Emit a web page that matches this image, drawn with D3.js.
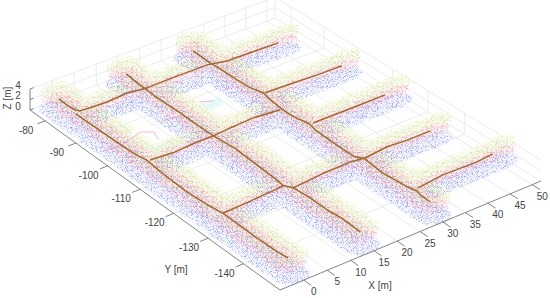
<!DOCTYPE html><html><head><meta charset="utf-8"><script src="https://cdnjs.cloudflare.com/ajax/libs/d3/7.8.5/d3.min.js"></script>
<style>html,body{margin:0;background:#fff}text{font-family:"Liberation Sans",Arial,sans-serif;font-size:10px;fill:#444}</style></head><body>
<svg id="chart" width="550" height="298"></svg>
<script>
// Axis ticks
const xTicks=[0,5,10,15,20,25,30,35,40,45,50];
const yTicks=[-80,-90,-100,-110,-120,-130,-140];
const zTicks=[0,2,4];
// Trajectory runs, [X m, Y m], drawn at sensor height
const trajectoryZ=2;
const run1=[[-0.6,-78.1],[-0.7,-80.8],[-0.5,-83.2],[0,-84.1],[2.1,-84.3],[5.8,-84.5],[10.6,-84.1],[13.8,-84.7],[14.6,-84.8],[21.1,-84.7],[28.5,-84.8],[32.3,-85.9],[38.2,-86.1],[44,-86.3]];
const run2=[[-1.2,-84.4],[-1.2,-89.3],[-1,-97.5],[-0.9,-102.3],[-0.4,-105.7],[-0.6,-108.3],[-0.9,-113.5],[-1,-118.8],[-0.7,-124],[-0.2,-127.8],[-0.3,-136.4],[-0.2,-143.1],[0.1,-145.6]];
const run3=[[14.6,-78.2],[14.2,-83.1],[14.2,-85.4],[14,-88],[14.1,-95.9],[14,-99.9],[14,-106.1],[14.5,-112],[14.2,-117.2],[13.9,-123.6],[13.6,-127],[14.5,-128.6],[14.8,-132.9],[14.7,-137.7],[15,-141.4],[14.8,-146.6]];
const run4=[[29.6,-78.9],[29.4,-84.5],[29.5,-86.5],[29.5,-92.7],[29.6,-96],[30.4,-99.6],[30,-101.4],[29.5,-106.1],[29.5,-109.5],[30.2,-113],[29.7,-115.5],[29.5,-121],[29.4,-126.8],[30.4,-128.4],[29.9,-134.2],[30.4,-140.8],[30.8,-142.3],[30.4,-143.6],[30.3,-146.3]];
const run5=[[0.1,-105.9],[4.8,-106.4],[10.4,-106],[14,-106.1],[18.1,-105.7],[23.5,-105.4],[29.1,-106.1]];
const run6=[[30.7,-99.6],[36.9,-99.9],[42.9,-100.3],[47.9,-100.4]];
const run7=[[-0.1,-127.8],[5.3,-127.6],[11.7,-127.2],[13.5,-127]];
const run8=[[14.5,-128.6],[21.5,-128],[27.7,-127.9],[30.6,-128.4],[36.1,-127.8],[40.5,-128.2],[45.6,-128.2]];
const run9=[[31.6,-141.6],[37.7,-140.9],[45.2,-141.2],[49.1,-140.8]];
const run10=[[30.9,-113.4],[41.6,-113.5],[47.4,-113.5]];
const runs=[run1,run2,run3,run4,run5,run6,run7,run8,run9,run10];
// Tunnel centre lines: the extent of the scanned swaths
const tunnels=[
 [[-0.8,-77],[-0.8,-148]],[[14.3,-77],[14.3,-148]],[[30,-77],[30,-148]],
 [[-0.8,-84.5],[46,-86]],[[0,-106],[30,-106]],[[30,-100],[49,-100.4]],
 [[-0.8,-127.5],[14,-127]],[[14,-128],[47,-128.2]],[[30,-113.5],[50,-113.5]],[[30,-141],[51,-141]]];
// Faint floor returns seen in the openings
const floorPink=[[[-2.8,-95.3],[0.8,-95.9],[6.6,-94],[8.5,-95.4],[7.6,-98.1]],[[12.1,-93.1],[16,-93.9]],[[21.5,-91.8],[23.9,-93.2]],[[27,-91.3],[29.4,-91.1]]];
const floorCyan=[[[3.5,-90],[3.5,-101]],[[3,-101],[11,-101]],[[17.5,-94],[25,-94]]];

const Xmin=-5,Xmax=52,Ymin=-150,Ymax=-75;
// The picture's perspective: unit square (u along X, v towards Ymin) onto the floor corners
const uScale=d3.scaleLinear().domain([Xmin,Xmax]).range([0,1]);
const vScale=d3.scaleLinear().domain([Ymax,Ymin]).range([0,1]);
const zScale=d3.scaleLinear().domain([0,4]).range([0,-21]);
const P00=[30,110],P10=[275,18],P11=[541,181],P01=[280,290];
const sx=P00[0]-P10[0]+P11[0]-P01[0],sy=P00[1]-P10[1]+P11[1]-P01[1];
const d1=[P10[0]-P11[0],P10[1]-P11[1]],d2=[P01[0]-P11[0],P01[1]-P11[1]];
const det=d1[0]*d2[1]-d2[0]*d1[1];
const hg=(sx*d2[1]-d2[0]*sy)/det,hh=(d1[0]*sy-sx*d1[1])/det;
const ha=P10[0]-P00[0]+hg*P10[0],hb=P01[0]-P00[0]+hh*P01[0];
const hd=P10[1]-P00[1]+hg*P10[1],he=P01[1]-P00[1]+hh*P01[1];
function project(X,Y,Z=0){const u=uScale(X),v=vScale(Y),w=hg*u+hh*v+1;
 return [(ha*u+hb*v+P00[0])/w,(hd*u+he*v+P00[1])/w+zScale(Z)];}

const svg=d3.select("#chart");
const defs=svg.append("defs");
// Speckle texture: the tens of thousands of single scan points cannot be read from the picture,
// so the swaths are shaded with a noise texture rather than with invented point values.
function speckle(id,seed,freq,cut){
 const f=defs.append("filter").attr("id",id).attr("filterUnits","userSpaceOnUse").attr("x",0).attr("y",0).attr("width",550).attr("height",298).attr("color-interpolation-filters","sRGB");
 f.append("feTurbulence").attr("type","fractalNoise").attr("baseFrequency",freq).attr("numOctaves",1).attr("seed",seed).attr("result","n");
 f.append("feColorMatrix").attr("in","n").attr("type","matrix").attr("values",`0 0 0 0 0 0 0 0 0 0 0 0 0 0 0 7 0 0 0 ${-7*cut}`).attr("result","m");
 f.append("feComposite").attr("in","SourceGraphic").attr("in2","m").attr("operator","in").attr("result","c");
 f.append("feGaussianBlur").attr("in","c").attr("stdDeviation",0.3);
}
const layers=[
 {z:0,  rx:3.2,ry:2.3,color:"#5a6fe0",seed:3, cut:.53,op:.5,wash:"#e8ebfb"},
 {z:0.9,rx:2.9,ry:2.0,color:"#8a98d4",seed:8, cut:.57,op:.38},
 {z:3.0,rx:3.1,ry:1.9,color:"#a4c286",seed:11,cut:.56,op:.42,wash:"#f2f7ea"},
 {z:3.8,rx:3.1,ry:1.7,color:"#dcdf82",seed:17,cut:.54,op:.5,wash:"#fafbe8"},
 {z:1.9,rx:2.7,ry:1.5,color:"#f47fa8",seed:23,cut:.55,op:.6,wash:"#fde4ec"}];
layers.forEach((l,i)=>speckle("sp"+i,l.seed,1.2,l.cut));
defs.append("filter").attr("id","soft").append("feGaussianBlur").attr("stdDeviation",1.6);

const ln=d3.line();
const grid=svg.append("g").attr("fill","none").attr("stroke","#e4e4e4").attr("stroke-width",0.7);
const seg=(g,a,b)=>g.append("path").attr("d",ln([a,b]));
xTicks.forEach(x=>{seg(grid,project(x,Ymin),project(x,Ymax));seg(grid,project(x,Ymax),project(x,Ymax,4));});
yTicks.forEach(y=>{seg(grid,project(Xmin,y),project(Xmax,y));seg(grid,project(Xmax,y),project(Xmax,y,4));});
zTicks.forEach(z=>{seg(grid,project(Xmin,Ymax,z),project(Xmax,Ymax,z));seg(grid,project(Xmax,Ymax,z),project(Xmax,Ymin,z));});
seg(grid,project(Xmax,Ymax),project(Xmax,Ymax,4));

svg.append("g").attr("fill","none").attr("stroke","#c9f3f3").attr("stroke-width",9).attr("opacity",.45).attr("filter","url(#soft)")
 .selectAll("path").data(floorCyan).join("path").attr("d",d=>ln(d.map(p=>project(p[0],p[1]))));

// Swaths: each tunnel is the hull of an ellipse at both ends, taken in metres and then projected
const angles=d3.range(0,360,15).map(a=>a*Math.PI/180);
function swath(l){
 return tunnels.map(t=>{
  const pts=[];t.forEach(c=>angles.forEach(a=>pts.push([c[0]+l.rx*Math.cos(a),c[1]+l.ry*Math.sin(a)])));
  return ln(d3.polygonHull(pts).map(p=>project(p[0],p[1],l.z)))+"Z";
 }).join("");
}
layers.filter(l=>l.wash).forEach(l=>svg.append("path").attr("d",swath(l)).attr("fill",l.wash).attr("opacity",.5).attr("filter","url(#soft)"));
layers.forEach((l,i)=>svg.append("path").attr("d",swath(l)).attr("fill",l.color).attr("fill-rule","nonzero").attr("opacity",l.op).attr("filter",`url(#sp${i})`));

svg.append("g").attr("fill","none").attr("stroke","#f06fb4").attr("stroke-width",.9).attr("opacity",.55)
 .selectAll("path").data(floorPink).join("path").attr("d",d=>ln(d.map(p=>project(p[0],p[1]))));

svg.append("g").attr("fill","none").attr("stroke","#a5672c").attr("stroke-width",1.5).attr("stroke-linejoin","round")
 .selectAll("path").data(runs).join("path").attr("d",d=>ln(d.map(p=>project(p[0],p[1],trajectoryZ))));

const axis=svg.append("g").attr("fill","none").attr("stroke","#666").attr("stroke-width",0.8);
seg(axis,project(Xmin,Ymin),project(Xmax,Ymin));
seg(axis,project(Xmin,Ymax),project(Xmin,Ymin));
seg(axis,project(Xmin,Ymax),project(Xmin,Ymax,4));
xTicks.forEach(x=>seg(axis,project(x,Ymin),project(x,Ymin-2)));
yTicks.forEach(y=>seg(axis,project(Xmin,y),project(Xmin-1.7,y)));
zTicks.forEach(z=>seg(axis,project(Xmin,Ymax,z),project(Xmin+0.8,Ymax,z)));

const labels=svg.append("g").attr("text-anchor","middle").attr("dominant-baseline","central");
xTicks.forEach(x=>{const p=project(x,Ymin);labels.append("text").attr("x",p[0]+10).attr("y",p[1]+11.7).text(String(x));});
yTicks.forEach(y=>{const p=project(Xmin,y);labels.append("text").attr("x",p[0]-19).attr("y",p[1]+9.5).text(String(y));});
zTicks.forEach(z=>{const p=project(Xmin,Ymax,z);labels.append("text").attr("x",p[0]-12).attr("y",p[1]-4).text(String(z));});
labels.append("text").attr("x",380).attr("y",285.7).text("X [m]");
labels.append("text").attr("x",176).attr("y",269).text("Y [m]");
labels.append("text").attr("transform","translate(7,98) rotate(-90)").text("Z [m]");
</script></body></html>
